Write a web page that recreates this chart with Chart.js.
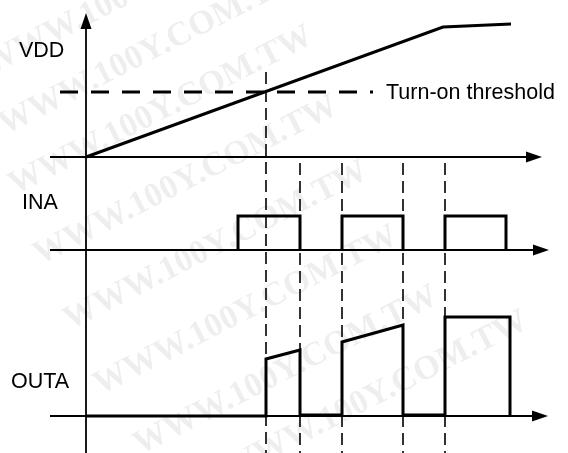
<!DOCTYPE html>
<html>
<head>
<meta charset="utf-8">
<script src="https://cdn.jsdelivr.net/npm/chart.js@4.4.1/dist/chart.umd.min.js"></script>
<style>
  html, body { margin: 0; padding: 0; background: #fff; overflow: hidden; }
  #wrap { width: 568px; height: 453px; position: relative; }
</style>
</head>
<body>
<div id="wrap"><canvas id="timing"></canvas></div>
<script>
const signalNames = ["VDD", "INA", "OUTA"];

const vddTime = [0, 357, 425];
const vddLevel = [0, 130, 133];
const thresholdLevel = 65;
const thresholdLabel = "Turn-on threshold";

const inaRise = [152, 256, 359];
const inaFall = [214, 317, 420];
const inaHigh = 34;

const outaRise = [180, 256, 359];
const outaFall = [214, 317, 424];
const outaStart = [57, 74, 99];
const outaEnd = [66, 91, 99];
const outaLow = [0, 1, 1];

const edgeTimes = [180, 214, 256, 317, 359];

// Disposicion (no son datos)
const base = { VDD: 296, INA: 203, OUTA: 37 };
const guideTop = [381, 290, 290, 290, 290];
const thresholdSpan = [-26, 287];
const axisStart = -36;
const axisEnd = { VDD: 456, INA: 463, OUTA: 462 };
const yAxisTop = 440;

const negro = "#000";

function linea(puntos, extra) {
    return Object.assign({
        data: puntos,
        showLine: true,
        borderColor: negro,
        borderWidth: 3,
        pointRadius: 0,
        tension: 0,
        borderJoinStyle: "miter",
        borderCapStyle: "butt",
        fill: false
    }, extra || {});
}

const datasets = [];

// VDD
datasets.push(linea(vddTime.map((t, i) => ({ x: t, y: base.VDD + vddLevel[i] }))));

// umbral
datasets.push(linea([
    { x: thresholdSpan[0], y: base.VDD + thresholdLevel },
    { x: thresholdSpan[1], y: base.VDD + thresholdLevel }
], { borderDash: [18, 13], borderWidth: 2.8 }));

// INA, un pulso por dataset
inaRise.forEach((r, i) => {
    datasets.push(linea([
        { x: r, y: base.INA },
        { x: r, y: base.INA + inaHigh },
        { x: inaFall[i], y: base.INA + inaHigh },
        { x: inaFall[i], y: base.INA }
    ]));
});

// OUTA
const outaPts = [{ x: 0, y: base.OUTA + outaLow[0] }];
outaRise.forEach((r, i) => {
    const despues = i + 1 < outaLow.length ? outaLow[i + 1] : 0;
    outaPts.push(
        { x: r, y: base.OUTA + outaLow[i] },
        { x: r, y: base.OUTA + outaStart[i] },
        { x: outaFall[i], y: base.OUTA + outaEnd[i] },
        { x: outaFall[i], y: base.OUTA + despues }
    );
});
datasets.push(linea(outaPts));

// lineas guia verticales
edgeTimes.forEach((t, i) => {
    datasets.push(linea([{ x: t, y: guideTop[i] }, { x: t, y: 0 }],
        { borderDash: [12, 6], borderWidth: 1.6 }));
});

// ejes, flechas, etiquetas y marca de agua
const ejesPlugin = {
    id: "ejes",
    beforeDatasetsDraw(chart) {
        const ctx = chart.ctx;
        const sx = chart.scales.x, sy = chart.scales.y;

        // marca de agua
        ctx.save();
        ctx.fillStyle = "rgba(0,0,0,0.065)";
        ctx.font = "bold 34px 'Liberation Serif', serif";
        const marcas = [[-10, 75], [5, 135], [15, 195], [40, 265], [70, 330], [100, 395], [140, 455], [230, 480]];
        marcas.forEach(([px, py]) => {
            ctx.save();
            ctx.translate(px, py);
            ctx.rotate(-27 * Math.PI / 180);
            ctx.fillText("WWW.100Y.COM.TW", 0, 0);
            ctx.restore();
        });
        ctx.restore();

        ctx.save();
        ctx.strokeStyle = negro;
        ctx.fillStyle = negro;
        ctx.lineWidth = 1.8;

        // eje vertical
        const x0 = sx.getPixelForValue(0);
        const yTop = sy.getPixelForValue(yAxisTop);
        ctx.beginPath();
        ctx.moveTo(x0, chart.height);
        ctx.lineTo(x0, yTop + 10);
        ctx.stroke();
        ctx.beginPath();
        ctx.moveTo(x0, yTop);
        ctx.lineTo(x0 - 5.5, yTop + 16);
        ctx.lineTo(x0 + 5.5, yTop + 16);
        ctx.closePath();
        ctx.fill();

        // ejes horizontales
        signalNames.forEach(n => {
            const y = sy.getPixelForValue(base[n]);
            const xa = sx.getPixelForValue(axisStart);
            const xb = sx.getPixelForValue(axisEnd[n]);
            ctx.beginPath();
            ctx.moveTo(xa, y);
            ctx.lineTo(xb - 10, y);
            ctx.stroke();
            ctx.beginPath();
            ctx.moveTo(xb, y);
            ctx.lineTo(xb - 16, y - 5.5);
            ctx.lineTo(xb - 16, y + 5.5);
            ctx.closePath();
            ctx.fill();
        });
        ctx.restore();
    },
    afterDatasetsDraw(chart) {
        const ctx = chart.ctx;
        ctx.save();
        ctx.fillStyle = negro;
        ctx.font = "21.5px 'Liberation Sans', Arial, sans-serif";
        ctx.textBaseline = "middle";
        ctx.textAlign = "left";
        ctx.fillText(signalNames[0], 19, 51);
        ctx.fillText(signalNames[1], 22, 203);
        ctx.fillText(signalNames[2], 11, 382);
        ctx.fillText(thresholdLabel, 386, 93);
        ctx.restore();
    }
};

new Chart(document.getElementById("timing"), {
    type: "scatter",
    data: { datasets: datasets },
    options: {
        responsive: true,
        maintainAspectRatio: false,
        animation: false,
        layout: { padding: 0, autoPadding: false },
        plugins: { legend: { display: false }, tooltip: { enabled: false } },
        scales: {
            x: { type: "linear", min: -86, max: 482, display: false },
            y: { type: "linear", min: 0, max: 453, display: false }
        }
    },
    plugins: [ejesPlugin]
});
</script>
</body>
</html>
